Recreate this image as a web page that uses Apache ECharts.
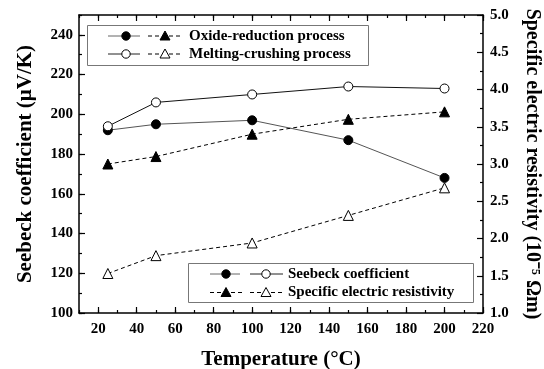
<!DOCTYPE html>
<html>
<head>
<meta charset="utf-8">
<script src="https://cdn.jsdelivr.net/npm/echarts@6/dist/echarts.min.js"></script>
<style>
  html, body { margin: 0; padding: 0; background: #fff; }
  #chart { width: 544px; height: 369px; }
</style>
</head>
<body>
<div id="chart"></div>
<script>
// temperatures (°C)
var temps = [25, 50, 100, 150, 200];
// Seebeck coefficient (µV/K)
var seebeckOxide = [192, 195, 197, 187, 168];
var seebeckMelt = [194, 206, 210, 214, 213];
// specific electric resistivity (10^-5 Ωm)
var resistOxide = [3.0, 3.1, 3.4, 3.6, 3.7];
var resistMelt = [1.53, 1.77, 1.94, 2.31, 2.68];
// tick labels
var xMajor = [20, 40, 60, 80, 100, 120, 140, 160, 180, 200, 220];
var yMajor = [100, 120, 140, 160, 180, 200, 220, 240];

var FONT = 'Liberation Serif';
var chart = echarts.init(document.getElementById('chart'));

function pairs(xs, ys) {
    return xs.map(function (x, i) { return [x, ys[i]]; });
}

// plain frame axis with short (minor) ticks
function frameX(pos, withLabels) {
    return {
        type: 'value', position: pos, min: 10, max: 220, interval: 10,
        axisLine: { show: true, onZero: false, lineStyle: { color: '#000', width: 1.5 } },
        axisTick: { show: true, inside: true, length: 3, lineStyle: { color: '#000', width: 1.2 } },
        axisLabel: {
            show: withLabels, margin: 9, color: '#000', fontFamily: FONT, fontWeight: 'bold', fontSize: 15,
            formatter: function (v) { return v % 20 === 0 ? v : ''; }
        },
        splitLine: { show: false }
    };
}
// overlay axis that only draws the long (major) ticks
function majorX(pos) {
    return {
        type: 'value', position: pos, min: 10, max: 220,
        axisLine: { show: false, onZero: false },
        axisTick: { show: true, inside: true, length: 6, customValues: xMajor, lineStyle: { color: '#000', width: 1.2 } },
        axisLabel: { show: false },
        splitLine: { show: false }
    };
}

var titleStyle = { color: '#000', fontFamily: FONT, fontWeight: 'bold', fontSize: 21 };

var xAxis = [frameX('bottom', true), majorX('bottom'), frameX('top', false), majorX('top')];
xAxis[0].name = 'Temperature (°C)';
xAxis[0].nameLocation = 'middle';
xAxis[0].nameGap = 36;
xAxis[0].nameTextStyle = titleStyle;

var yAxis = [
    {
        type: 'value', position: 'left', min: 100, max: 250, interval: 10,
        name: 'Seebeck coefficient (μV/K)', nameLocation: 'middle', nameGap: 43,
        nameTextStyle: titleStyle,
        axisLine: { show: true, onZero: false, lineStyle: { color: '#000', width: 1.5 } },
        axisTick: { show: true, inside: true, length: 3, lineStyle: { color: '#000', width: 1.2 } },
        axisLabel: {
            margin: 6, color: '#000', fontFamily: FONT, fontWeight: 'bold', fontSize: 15,
            formatter: function (v) { return (v % 20 === 0 && v < 250) ? v : ''; }
        },
        splitLine: { show: false }
    },
    {
        type: 'value', position: 'right', min: 1, max: 5, interval: 0.5,
        name: 'Specific electric resistivity (10⁻⁵ Ωm)', nameLocation: 'middle', nameGap: 39, nameRotate: -90,
        nameTextStyle: { color: '#000', fontFamily: FONT, fontWeight: 'bold', fontSize: 20 },
        axisLine: { show: true, onZero: false, lineStyle: { color: '#000', width: 1.5 } },
        axisTick: { show: true, inside: true, length: 6, lineStyle: { color: '#000', width: 1.2 } },
        minorTick: { show: true, splitNumber: 2, length: 3, lineStyle: { color: '#000', width: 1.2 } },
        axisLabel: {
            margin: 7, color: '#000', fontFamily: FONT, fontWeight: 'bold', fontSize: 15,
            formatter: function (v) { return v.toFixed(1); }
        },
        splitLine: { show: false }
    },
    {
        type: 'value', position: 'left', min: 100, max: 250,
        axisLine: { show: false, onZero: false },
        axisTick: { show: true, inside: true, length: 6, customValues: yMajor, lineStyle: { color: '#000', width: 1.2 } },
        axisLabel: { show: false },
        splitLine: { show: false }
    }
];

function lineSeries(name, data, yIdx, symbol, filled, lineColor, dashed) {
    return {
        name: name, type: 'line', xAxisIndex: 0, yAxisIndex: yIdx,
        data: data, symbol: symbol, symbolSize: symbol === 'triangle' ? 10 : 9,
        showAllSymbol: true, animation: false, z: 3,
        itemStyle: { color: filled ? '#000' : '#fff', borderColor: '#000', borderWidth: 1 },
        lineStyle: { color: lineColor, width: 1, type: dashed ? [4, 3] : 'solid' },
        emphasis: { disabled: true }
    };
}

// legend boxes (drawn as graphic)
function seg(x1, x2, y, color, dashed) {
    return { type: 'line', shape: { x1: x1, y1: y, x2: x2, y2: y },
        style: { stroke: color, lineWidth: 1, lineDash: dashed ? [4, 3] : null } };
}
function dot(cx, cy, filled) {
    return { type: 'circle', shape: { cx: cx, cy: cy, r: 4.2 },
        style: { fill: filled ? '#000' : '#fff', stroke: '#000', lineWidth: 1 } };
}
function tri(cx, cy, filled) {
    return { type: 'polygon', shape: { points: [[cx, cy - 5], [cx + 5, cy + 4], [cx - 5, cy + 4]] },
        style: { fill: filled ? '#000' : '#fff', stroke: '#000', lineWidth: 1 } };
}
function label(x, y, s) {
    return { type: 'text', x: x, y: y,
        style: { text: s, fill: '#000', font: 'bold 15px "Liberation Serif"', verticalAlign: 'middle' } };
}

var graphic = [
    { type: 'rect', shape: { x: 87.5, y: 25.5, width: 281, height: 40 }, style: { fill: '#fff', stroke: '#777', lineWidth: 1 } },
    seg(108, 140, 36, '#666', false), dot(126, 36, true), seg(148, 182, 36, '#000', true), tri(165, 36, true),
    label(189, 36, 'Oxide-reduction process'),
    seg(108, 140, 54, '#222', false), dot(126, 54, false), seg(148, 182, 54, '#000', true), tri(165, 54, false),
    label(189, 54, 'Melting-crushing process'),

    { type: 'rect', shape: { x: 188.5, y: 263.5, width: 285, height: 39 }, style: { fill: '#fff', stroke: '#777', lineWidth: 1 } },
    seg(210, 240, 274, '#666', false), dot(226, 274, true), seg(250, 283, 274, '#222', false), dot(266, 274, false),
    label(288, 274, 'Seebeck coefficient'),
    seg(210, 242, 292.5, '#000', true), tri(226, 292.5, true), seg(250, 283, 292.5, '#000', true), tri(266, 292.5, false),
    label(288, 292.5, 'Specific electric resistivity')
];

chart.setOption({
    backgroundColor: '#fff',
    animation: false,
    grid: { left: 79, right: 61, top: 15, bottom: 56, containLabel: false, outerBoundsMode: 'none' },
    xAxis: xAxis,
    yAxis: yAxis,
    series: [
        lineSeries('Seebeck oxide', pairs(temps, seebeckOxide), 0, 'circle', true, '#555', false),
        lineSeries('Seebeck melt', pairs(temps, seebeckMelt), 0, 'circle', false, '#111', false),
        lineSeries('Resistivity oxide', pairs(temps, resistOxide), 1, 'triangle', true, '#000', true),
        lineSeries('Resistivity melt', pairs(temps, resistMelt), 1, 'triangle', false, '#000', true)
    ],
    graphic: graphic
});
</script>
</body>
</html>
